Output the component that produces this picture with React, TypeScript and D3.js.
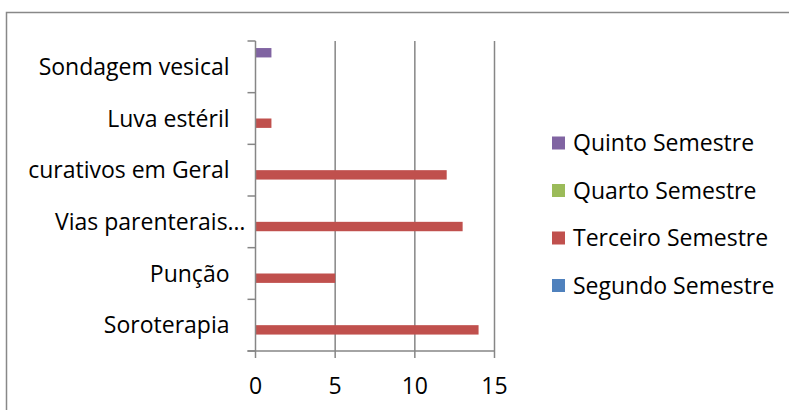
import React, { useRef, useEffect } from 'react';
import * as d3 from 'd3';

// categories listed bottom to top, like the Excel bar chart
const categories = ['Soroterapia', 'Punção', 'Vias parenterais…', 'curativos em Geral', 'Luva estéril', 'Sondagem vesical'];

const segundo = [0, 0, 0, 0, 0, 0];
const terceiro = [14, 5, 13, 12, 1, 0];
const quarto = [0, 0, 0, 0, 0, 0];
const quinto = [0, 0, 0, 0, 0, 1];

const seriesNames = ['Quinto Semestre', 'Quarto Semestre', 'Terceiro Semestre', 'Segundo Semestre'];
const xTicks = [0, 5, 10, 15];

const colors: Record<string, string> = {
  'Quinto Semestre': '#8064A2',
  'Quarto Semestre': '#9BBB59',
  'Terceiro Semestre': '#C0504D',
  'Segundo Semestre': '#4F81BD',
};

const App: React.FC = () => {
  const svgRef = useRef<SVGSVGElement>(null);

  useEffect(() => {
    if (!svgRef.current) return;
    const svg = d3.select(svgRef.current);
    svg.selectAll('*').remove();

    const W = 789, H = 410;
    const left = 255.5, right = 494.5, top = 41, bottom = 351;
    const axisColor = '#868686';
    const font = '"Open Sans", Lato, sans-serif';

    const values: Record<string, number[]> = {
      'Quinto Semestre': quinto,
      'Quarto Semestre': quarto,
      'Terceiro Semestre': terceiro,
      'Segundo Semestre': segundo,
    };

    // outer frame (cut off at right and bottom)
    svg.append('rect')
      .attr('x', 6.5).attr('y', 12.5)
      .attr('width', W + 20).attr('height', H + 20)
      .attr('fill', 'white')
      .attr('stroke', '#888').attr('stroke-width', 1.5);

    const x = d3.scaleLinear().domain([0, 15]).range([left, right]);
    const topDown = categories.slice().reverse();
    const y = d3.scaleBand().domain(topDown).range([top, bottom]);
    const inner = d3.scaleBand()
      .domain(seriesNames)
      .range([0, y.bandwidth()])
      .paddingInner(0)
      .paddingOuter(0.75);

    // gridlines
    svg.append('g').selectAll('line')
      .data(xTicks.filter(t => t > 0))
      .enter().append('line')
      .attr('x1', d => x(d)).attr('x2', d => x(d))
      .attr('y1', top).attr('y2', bottom + 7)
      .attr('stroke', axisColor).attr('stroke-width', 1.5);

    // bars
    seriesNames.forEach(s => {
      svg.append('g').selectAll('rect')
        .data(categories.map((c, i) => ({ c, v: values[s][i] })).filter(d => d.v > 0))
        .enter().append('rect')
        .attr('x', x(0))
        .attr('y', d => y(d.c)! + inner(s)!)
        .attr('width', d => x(d.v) - x(0))
        .attr('height', inner.bandwidth())
        .attr('fill', colors[s]);
    });

    // axes lines
    svg.append('line')
      .attr('x1', left).attr('x2', left).attr('y1', top).attr('y2', bottom + 7)
      .attr('stroke', axisColor).attr('stroke-width', 1.5);
    svg.append('line')
      .attr('x1', left - 8).attr('x2', right).attr('y1', bottom).attr('y2', bottom)
      .attr('stroke', axisColor).attr('stroke-width', 1.5);

    // category boundary ticks
    const bounds = topDown.map(c => y(c)!).concat([bottom]);
    svg.append('g').selectAll('line')
      .data(bounds)
      .enter().append('line')
      .attr('x1', left - 8).attr('x2', left)
      .attr('y1', d => d).attr('y2', d => d)
      .attr('stroke', axisColor).attr('stroke-width', 1.5);

    // category labels
    svg.append('g').selectAll('text')
      .data(categories)
      .enter().append('text')
      .attr('x', d => (d.endsWith('…') ? left - 10 : left - 26))
      .attr('y', d => y(d)! + y.bandwidth() / 2)
      .attr('dy', '0.35em')
      .attr('text-anchor', 'end')
      .attr('font-family', font).attr('font-size', 23)
      .attr('fill', '#000')
      .text(d => d);

    // x tick labels
    svg.append('g').selectAll('text')
      .data(xTicks)
      .enter().append('text')
      .attr('x', d => x(d))
      .attr('y', 394)
      .attr('text-anchor', 'middle')
      .attr('font-family', font).attr('font-size', 23)
      .attr('fill', '#000')
      .text(d => d);

    // legend
    const legend = svg.append('g').selectAll('g')
      .data(seriesNames)
      .enter().append('g')
      .attr('transform', (d, i) => `translate(552,${143 + i * 47.5})`);
    legend.append('rect')
      .attr('x', 0).attr('y', -6.5)
      .attr('width', 13).attr('height', 13)
      .attr('fill', d => colors[d]);
    legend.append('text')
      .attr('x', 21).attr('y', 0).attr('dy', '0.35em')
      .attr('font-family', font).attr('font-size', 23)
      .attr('fill', '#000')
      .text(d => d);
  }, []);

  return <svg ref={svgRef} width={789} height={410} style={{ position: 'absolute', left: 0, top: 0 }} />;
};

export default App;
